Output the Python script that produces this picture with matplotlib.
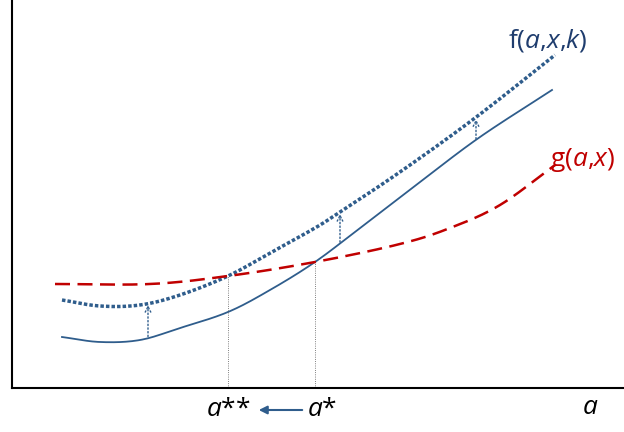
import matplotlib
matplotlib.use("Agg")
import matplotlib.pyplot as plt
import numpy as np

# curve samples (x, height)
f_x = [62, 100, 140, 180, 228, 270, 315, 360, 420, 480, 552]
f_y = [95, 90, 92, 104, 120, 142, 170, 204, 250, 295, 342]
fk_x = [62, 100, 140, 180, 228, 270, 315, 340, 400, 475, 555]
fk_y = [132, 126, 127, 137, 156, 179, 204, 220, 260, 314, 377]
g_x = [55, 150, 228, 315, 400, 450, 500, 555]
g_y = [148, 148, 156, 170, 188, 204, 227, 267]
a_star, a_2star = 315, 228
shift_x = [148, 340, 476]

plt.rcParams["font.family"] = ["Open Sans", "DejaVu Sans"]
plt.rcParams["mathtext.fontset"] = "custom"
plt.rcParams["mathtext.it"] = "Open Sans:italic"
plt.rcParams["mathtext.rm"] = "Open Sans"

fig = plt.figure(figsize=(6.24, 4.32), dpi=100)
ax = fig.add_axes([12 / 624, 44 / 432, 612 / 624, 388 / 432])
ax.set_xlim(12, 624)
ax.set_ylim(44, 432)
for s in ["top", "right"]:
    ax.spines[s].set_visible(False)
ax.spines["left"].set_linewidth(1.5)
ax.spines["bottom"].set_linewidth(1.5)
ax.set_xticks([])
ax.set_yticks([])

blue = "#2f5d8c"
red = "#c00000"


def smooth(xs, ys, n=20):
    """Catmull-Rom through the sampled points"""
    p = np.column_stack([xs, ys]).astype(float)
    p = np.vstack([2 * p[0] - p[1], p, 2 * p[-1] - p[-2]])
    out = []
    t = np.linspace(0, 1, n, endpoint=False)[:, None]
    for i in range(1, len(p) - 2):
        p0, p1, p2, p3 = p[i - 1], p[i], p[i + 1], p[i + 2]
        seg = 0.5 * ((2 * p1) + (-p0 + p2) * t + (2 * p0 - 5 * p1 + 4 * p2 - p3) * t ** 2
                     + (-p0 + 3 * p1 - 3 * p2 + p3) * t ** 3)
        out.append(seg)
    out.append(p[-2][None, :])
    out = np.vstack(out)
    return out[:, 0], out[:, 1]


ax.plot(*smooth(f_x, f_y), color=blue, lw=1.3)
ax.plot(*smooth(fk_x, fk_y), color=blue, lw=2.5, ls=(0, (1, 0.6)))
ax.plot(*smooth(g_x, g_y), color=red, lw=1.8, ls=(0, (6, 3)))

for xv in (a_2star, a_star):
    top = np.interp(xv, g_x, g_y)
    ax.plot([xv, xv], [44, top], color="#555555", lw=0.6, ls=":")

for xv in shift_x:
    y0 = np.interp(xv, f_x, f_y) + 1
    y1 = np.interp(xv, fk_x, fk_y) - 2
    ax.annotate("", xy=(xv, y1), xytext=(xv, y0),
                arrowprops=dict(arrowstyle="->", color=blue, lw=1.0, ls=":",
                                shrinkA=0, shrinkB=0))

ax.text(548, 392, r"f($\mathit{a}$,$\mathit{x}$,$\mathit{k}$)", color="#1f3d6e", fontsize=19, ha="center", va="center")
ax.text(583, 272, r"g($\mathit{a}$,$\mathit{x}$)", color=red, fontsize=19, ha="center", va="center")
fig.text(228 / 624, 1 - 410 / 432, r"$\mathit{a}$**", fontsize=19, ha="center", va="center")
fig.text(322 / 624, 1 - 410 / 432, r"$\mathit{a}$*", fontsize=19, ha="center", va="center")
fig.text(590 / 624, 1 - 408 / 432, r"$\mathit{a}$", fontsize=19, ha="center", va="center")
fig.patches.append(matplotlib.patches.FancyArrowPatch(
    (305 / 624, 1 - 410 / 432), (256 / 624, 1 - 410 / 432), transform=fig.transFigure,
    arrowstyle="-|>", mutation_scale=12, color=blue, lw=1.5))

fig.savefig("out.png", dpi=100)
